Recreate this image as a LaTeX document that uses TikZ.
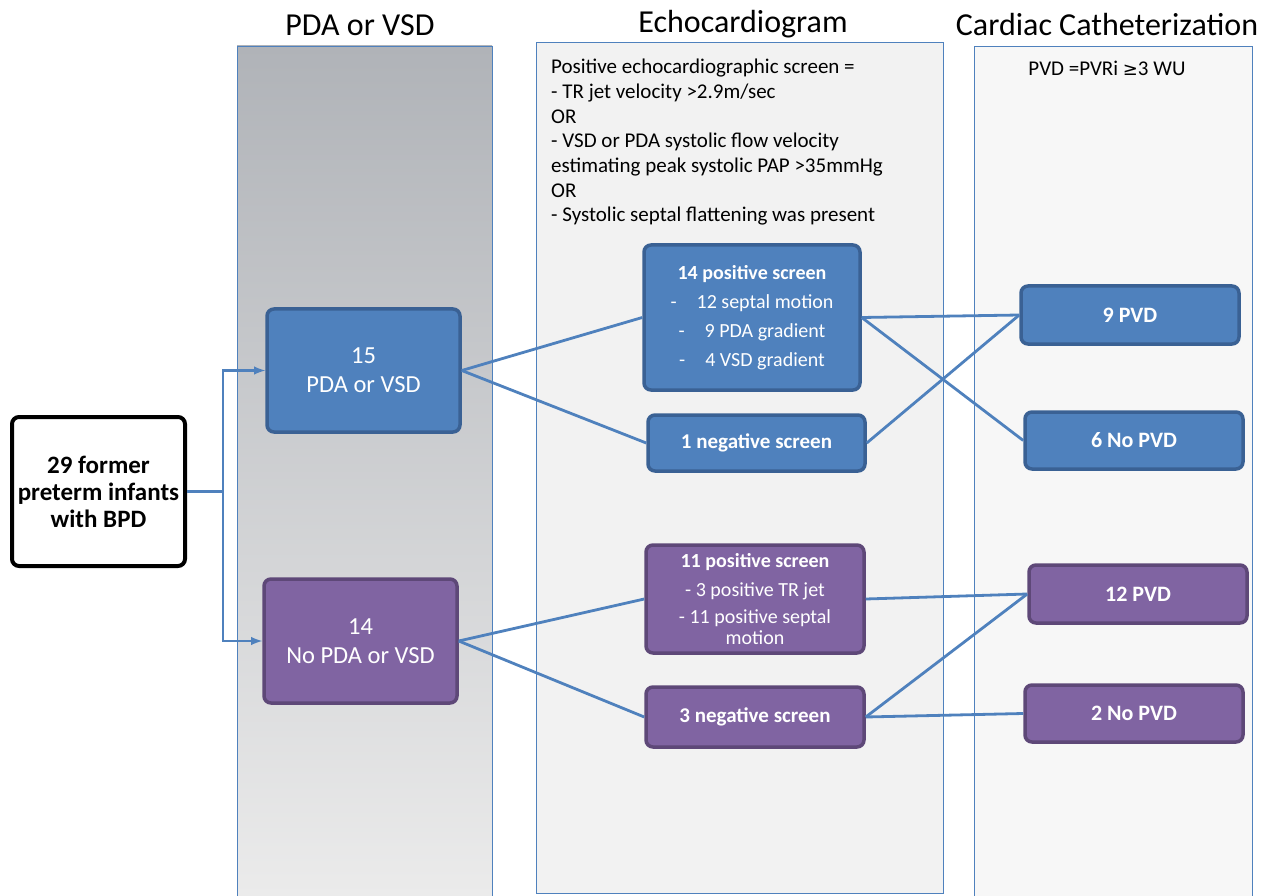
\documentclass[tikz,border=0pt]{standalone}
\usepackage{fontspec}
\setmainfont{Carlito}
\newfontfamily\symfont{DejaVu Sans}
\usepackage{xcolor}
\usepackage{tikz}
\usetikzlibrary{calc}

\definecolor{linkblue}{HTML}{4F81BD}
\definecolor{boxblue}{HTML}{4F81BD}
\definecolor{edgeblue}{HTML}{3A6194}
\definecolor{boxpurple}{HTML}{8064A2}
\definecolor{edgepurple}{HTML}{5E4878}
\definecolor{paneltop}{HTML}{B0B3B8}
\definecolor{panelbottom}{HTML}{EBEBEB}

\begin{document}
\begin{tikzpicture}[x=1pt, y=-1pt,
        panel/.style={draw=linkblue, line width=0.8pt},
        box/.style={rounded corners=7pt, line width=3.5pt, align=center,
            text=white, inner sep=2pt},
        bluebox/.style={box, fill=boxblue, draw=edgeblue},
        purplebox/.style={box, fill=boxpurple, draw=edgepurple},
        link/.style={draw=linkblue, line width=2.8pt},
        head/.style={font=\fontsize{32}{36}\selectfont}]
    \useasboundingbox (0,0) rectangle (1262,896);

    % columns
    \shade[top color=paneltop, bottom color=panelbottom] (237,46) rectangle (492,896);
    \draw[panel] (237,46) rectangle (492,896);
    \filldraw[panel, fill=black!5] (536,42) rectangle (943,893);
    \filldraw[panel, fill=black!3] (974,46) rectangle (1252,896);
    \node[head] (h1) at (360,25) {PDA or VSD};
    \node[head] (h2) at (743,24) {Echocardiogram};
    \node[head] (h3) at (1107,25) {Cardiac Catheterization};
    \node[anchor=north west, align=left, inner sep=0pt,
        font=\fontsize{21}{24.7}\selectfont] (crit) at (551,59)
        {Positive echocardiographic screen =\\
         - TR jet velocity >2.9m/sec\\
         OR\\
         - VSD or PDA systolic flow velocity\\
         estimating peak systolic PAP >35mmHg\\
         OR\\
         - Systolic septal flattening was present};
    \node[font=\fontsize{21}{24}\selectfont] (def) at (1107,68)
        {PVD =PVRi {\symfont\fontsize{18}{20}\selectfont ≥}3 WU};

    % boxes
    \node[box, fill=white, draw=black, text=black, line width=4pt,
        minimum width=173pt, minimum height=149pt,
        font=\bfseries\fontsize{25}{27}\selectfont] (start) at (98.5,491.5)
        {29 former\\preterm infants\\with BPD};
    \node[bluebox, minimum width=193pt, minimum height=123pt,
        font=\fontsize{24.5}{29}\selectfont] (pda) at (363.5,370.5) {15\\PDA or VSD};
    \node[purplebox, minimum width=193pt, minimum height=124pt,
        font=\fontsize{24.5}{29}\selectfont] (nopda) at (360.5,641) {14\\No PDA or VSD};

    \node[bluebox, minimum width=216pt, minimum height=145pt,
        font=\fontsize{20}{29}\selectfont] (pos14) at (752,317.5)
        {\textbf{14 positive screen}\\-\quad 12 septal motion\\-\quad 9 PDA gradient\\-\quad 4 VSD gradient};
    \node[bluebox, minimum width=217pt, minimum height=56pt,
        font=\bfseries\fontsize{21}{23}\selectfont] (neg1) at (756.5,443) {1 negative screen};
    \node[purplebox, minimum width=218pt, minimum height=108pt,
        font=\fontsize{20}{21}\selectfont] (pos11) at (755,599)
        {\textbf{11 positive screen}\\[8pt]- 3 positive TR jet\\[6pt]- 11 positive septal\\motion};
    \node[purplebox, minimum width=218pt, minimum height=60pt,
        font=\bfseries\fontsize{21}{23}\selectfont] (neg3) at (755,717) {3 negative screen};

    \node[bluebox, minimum width=218pt, minimum height=58pt,
        font=\bfseries\fontsize{22}{24}\selectfont] (pvd9) at (1130,315) {9 PVD};
    \node[bluebox, minimum width=218pt, minimum height=57pt,
        font=\bfseries\fontsize{22}{24}\selectfont] (nopvd6) at (1134,440.5) {6 No PVD};
    \node[purplebox, minimum width=218pt, minimum height=58pt,
        font=\bfseries\fontsize{22}{24}\selectfont] (pvd12) at (1138,594) {12 PVD};
    \node[purplebox, minimum width=218pt, minimum height=57pt,
        font=\bfseries\fontsize{22}{24}\selectfont] (nopvd2) at (1134,713.5) {2 No PVD};

    % connectors
    \coordinate (split) at ($(start.east)+(36,0)$);
    \draw[link, -latex] (start.east) -- (split) |- (pda.west);
    \draw[link, -latex] (split) |- (nopda.west);
    \draw[link] (pda.east) -- (pos14.west);
    \draw[link] (pda.east) -- (neg1.west);
    \draw[link] (nopda.east) -- (pos11.west);
    \draw[link] (nopda.east) -- (neg3.west);
    \draw[link] (pos14.east) -- (pvd9.west);
    \draw[link] (pos14.east) -- (nopvd6.west);
    \draw[link] (neg1.east) -- (pvd9.west);
    \draw[link] (pos11.east) -- (pvd12.west);
    \draw[link] (neg3.east) -- (pvd12.west);
    \draw[link] (neg3.east) -- (nopvd2.west);
\end{tikzpicture}
\end{document}
